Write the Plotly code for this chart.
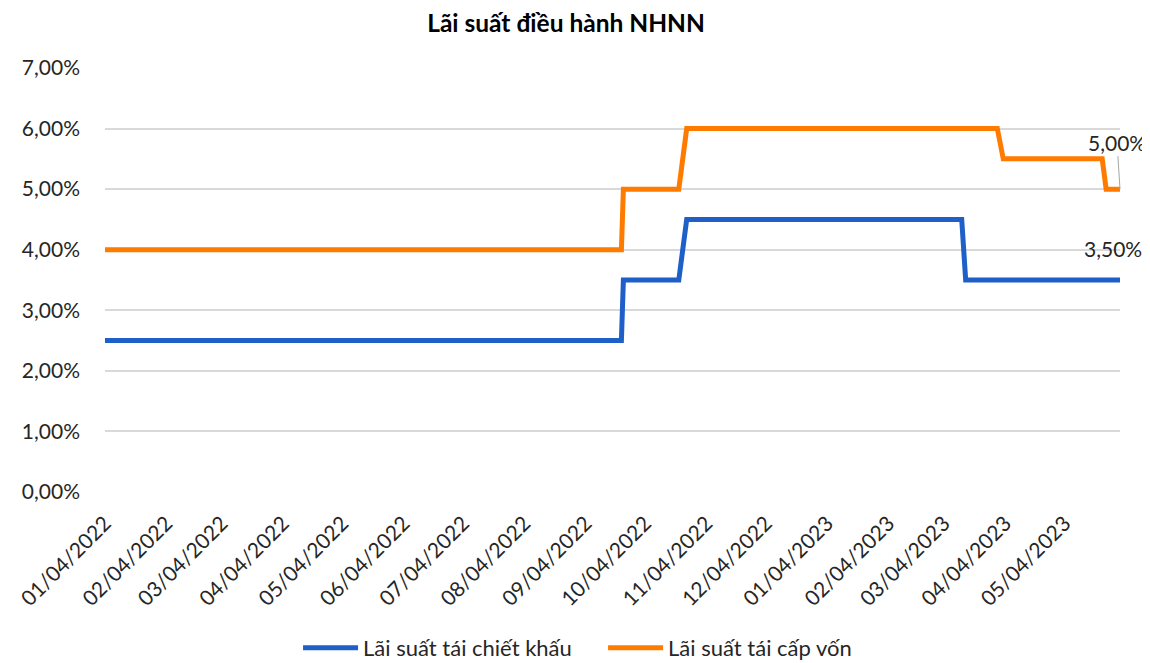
import plotly.graph_objects as go

title = "Lãi suất điều hành NHNN"

discount_name = "Lãi suất tái chiết khấu"
discount_dates = ["2022-01-04", "2022-09-22", "2022-09-23", "2022-10-21", "2022-10-25",
                  "2023-03-13", "2023-03-15", "2023-06-01"]
discount_rate = [2.5, 2.5, 3.5, 3.5, 4.5, 4.5, 3.5, 3.5]

refinance_name = "Lãi suất tái cấp vốn"
refinance_dates = ["2022-01-04", "2022-09-22", "2022-09-23", "2022-10-21", "2022-10-25",
                   "2023-03-31", "2023-04-03", "2023-05-23", "2023-05-25", "2023-06-01"]
refinance_rate = [4.0, 4.0, 5.0, 5.0, 6.0, 6.0, 5.5, 5.5, 5.0, 5.0]

FONT = "Lato, Carlito, Calibri, sans-serif"

fig = go.Figure()
fig.add_trace(go.Scatter(
    x=discount_dates, y=[v / 100 for v in discount_rate], name=discount_name,
    mode="lines", line=dict(color="#1F5FC8", width=5), cliponaxis=False,
))
fig.add_trace(go.Scatter(
    x=refinance_dates, y=[v / 100 for v in refinance_rate], name=refinance_name,
    mode="lines", line=dict(color="#FF7B00", width=5), cliponaxis=False,
))

# end-of-series data labels
fig.add_annotation(
    x=refinance_dates[-1], y=refinance_rate[-1] / 100, text="5,00%",
    showarrow=True, arrowhead=0, arrowwidth=1, arrowcolor="#a6a6a6",
    ax=-3, ay=-47, font=dict(size=21, color="#262626", family=FONT),
)
fig.add_annotation(
    x=discount_dates[-1], y=discount_rate[-1] / 100, text="3,50%",
    showarrow=False, xshift=-7, yshift=32,
    font=dict(size=21, color="#262626", family=FONT),
)

# page body has an 8px margin, so the figure is sized/offset to compensate
fig.update_layout(
    width=1142, height=655,
    margin=dict(l=97, r=30, t=60, b=171),
    paper_bgcolor="white", plot_bgcolor="white",
    separators=",.",
    font=dict(family=FONT, size=21, color="#262626"),
    title=dict(text="<b>" + title + "</b>", x=0.4886, xanchor="center",
               y=0.976, yanchor="middle", font=dict(size=24.5, color="black")),
    showlegend=True,
    legend=dict(orientation="h", xref="container", yref="container",
                x=0.254, xanchor="left", y=0.023, yanchor="middle",
                font=dict(size=22), entrywidth=235, itemwidth=55),
)
fig.update_xaxes(
    type="date", range=["2022-01-04", "2023-06-01"], automargin=False,
    tick0="2022-01-04", dtick="M1", tickformat="%m/%d/%Y", tickangle=-45,
    showgrid=False, showline=False, zeroline=False, ticks="", ticklabelstandoff=14,
)
fig.update_yaxes(
    range=[0, 0.07], dtick=0.01, tickformat=".2%", automargin=False,
    showgrid=True, gridcolor="#d9d9d9", gridwidth=1.5,
    zeroline=False, showline=False, ticks="", ticklabelstandoff=24,
)

fig.write_html("out.html")
